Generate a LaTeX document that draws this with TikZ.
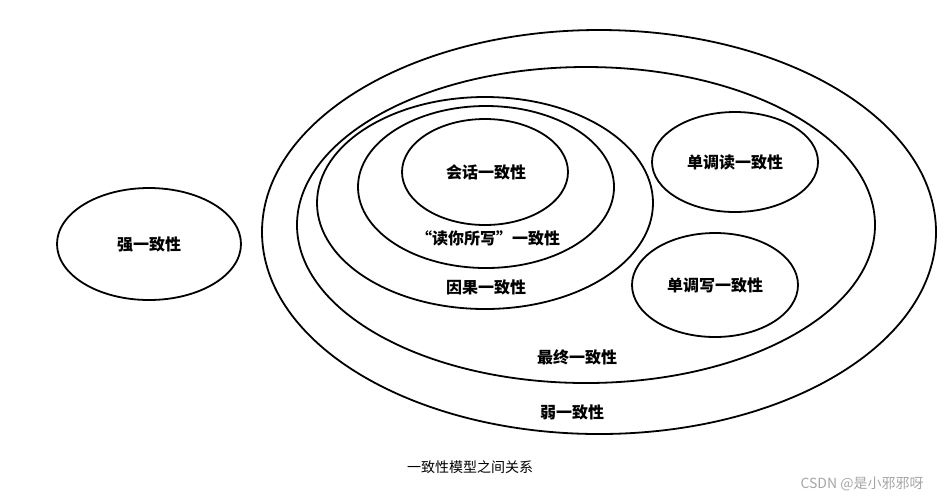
\documentclass[tikz,border=0pt]{standalone}
\usepackage{fontspec}
\setmainfont{Noto Sans CJK SC}
\tikzset{
	ring/.style={draw=black, line width=0.9pt},
	lbl/.style={font=\fontsize{8}{9}\selectfont\bfseries, inner sep=0pt}
}
\begin{document}
\begin{tikzpicture}[x=0.5pt, y=-0.5pt]
	\useasboundingbox (0,0) rectangle (951,500);
	% Ellipsen
	\draw[ring] (149,244) ellipse [x radius=92, y radius=56];
	\draw[ring] (599,232) ellipse [x radius=337, y radius=202];
	\draw[ring] (586,225) ellipse [x radius=289, y radius=158];
	\draw[ring] (485,203) ellipse [x radius=168, y radius=106];
	\draw[ring] (486,187) ellipse [x radius=128, y radius=81];
	\draw[ring] (485,172) ellipse [x radius=83, y radius=53];
	\draw[ring] (735,162) ellipse [x radius=83, y radius=50];
	\draw[ring] (715,285) ellipse [x radius=83, y radius=52];
	% Beschriftungen
	\node[lbl] (strong) at (149,244) {强一致性};
	\node[lbl] (weak) at (572,412) {弱一致性};
	\node[lbl] (eventual) at (577,357) {最终一致性};
	\node[lbl] (causal) at (486,287) {因果一致性};
	\node[lbl] (ryw) at (488,238) {“读你所写”一致性};
	\node[lbl] (session) at (486,172) {会话一致性};
	\node[lbl] (monoread) at (735,162) {单调读一致性};
	\node[lbl] (monowrite) at (715,285) {单调写一致性};
	\node[font=\fontsize{7}{8}\selectfont, inner sep=0pt] (caption) at (470,467) {一致性模型之间关系};
	\node[font=\fontsize{7}{8}\selectfont, text=black!35, inner sep=0pt] (mark) at (862,484) {CSDN @是小邪邪呀};
\end{tikzpicture}
\end{document}
